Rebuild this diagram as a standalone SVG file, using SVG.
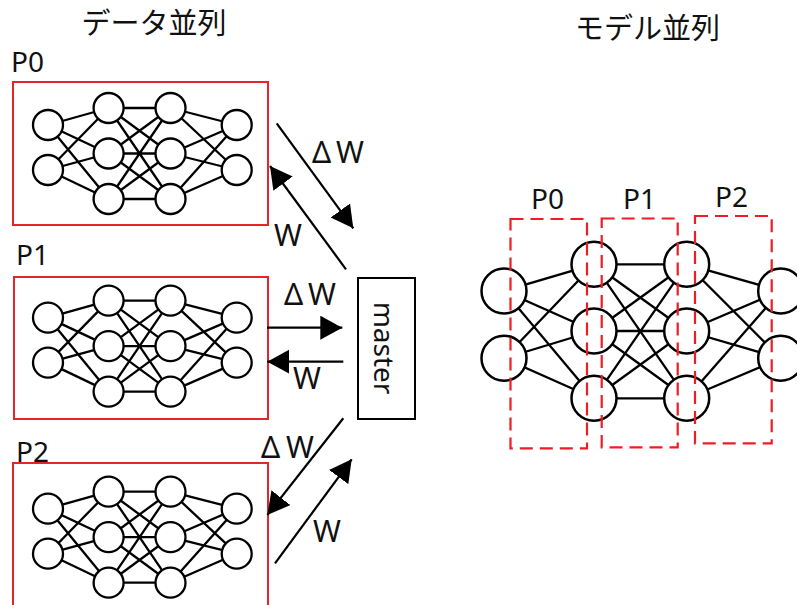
<svg xmlns="http://www.w3.org/2000/svg" xmlns:xlink="http://www.w3.org/1999/xlink" width="797" height="605" viewBox="0 0 797 605">
<style>
  .lbl { font-family: "Noto Sans", "Liberation Sans", sans-serif; font-size: 28px; fill: #111; }
  .wl { font-size: 30px; }
  .ttl { font-family: "Noto Sans CJK JP", "Noto Sans", sans-serif; font-size: 29px; fill: #111; }
  .edge { fill: none; stroke: #000; stroke-width: 2.3; }
  .nd { fill: #fff; stroke: #000; stroke-width: 2.3; }
  .ndb { fill: #fff; stroke: #000; stroke-width: 2.5; }
  .box { fill: none; stroke: #e4252a; stroke-width: 2; }
  .dbox { fill: none; stroke: #ee1c25; stroke-width: 2.2; stroke-dasharray: 13 7; }
  .arr { fill: none; stroke: #000; stroke-width: 2.2; marker-end: url(#ah); }
</style>
<defs>
  <marker id="ah" markerUnits="userSpaceOnUse" markerWidth="24" markerHeight="25" refX="22" refY="12" orient="auto">
    <path d="M0,0 L22,12 L0,24 Z" fill="#000"/>
  </marker>
  <g id="net">
    <path class="edge" d="M48,43 L108.6,26 M48,43 L108.6,71.5 M48,43 L108.6,117 M48,88 L108.6,26 M48,88 L108.6,71.5 M48,88 L108.6,117
      M108.6,26 L170.5,26 M108.6,26 L170.5,71.5 M108.6,26 L170.5,117
      M108.6,71.5 L170.5,26 M108.6,71.5 L170.5,71.5 M108.6,71.5 L170.5,117
      M108.6,117 L170.5,26 M108.6,117 L170.5,71.5 M108.6,117 L170.5,117
      M170.5,26 L236.7,43 M170.5,26 L236.7,88 M170.5,71.5 L236.7,43 M170.5,71.5 L236.7,88 M170.5,117 L236.7,43 M170.5,117 L236.7,88"/>
    <circle class="nd" cx="48" cy="43" r="15"/>
    <circle class="nd" cx="48" cy="88" r="15"/>
    <circle class="nd" cx="108.6" cy="26" r="15"/>
    <circle class="nd" cx="108.6" cy="71.5" r="15"/>
    <circle class="nd" cx="108.6" cy="117" r="15"/>
    <circle class="nd" cx="170.5" cy="26" r="15"/>
    <circle class="nd" cx="170.5" cy="71.5" r="15"/>
    <circle class="nd" cx="170.5" cy="117" r="15"/>
    <circle class="nd" cx="236.7" cy="43" r="15"/>
    <circle class="nd" cx="236.7" cy="88" r="15"/>
  </g>
</defs>
<rect width="797" height="605" fill="#fff"/>

<text class="ttl" x="154" y="34" text-anchor="middle">データ並列</text>
<text class="ttl" x="647.5" y="39" text-anchor="middle">モデル並列</text>

<g id="p0">
  <text class="lbl" x="11" y="72">P0</text>
  <rect class="box" x="13" y="82" width="255" height="143"/>
  <use xlink:href="#net" href="#net" transform="translate(0,82)"/>
</g>
<g id="p1">
  <text class="lbl" x="16" y="265">P1</text>
  <rect class="box" x="14" y="277" width="254" height="142"/>
  <use xlink:href="#net" href="#net" transform="translate(0,274.6)"/>
</g>
<g id="p2">
  <text class="lbl" x="16" y="462">P2</text>
  <rect class="box" x="13" y="463" width="255" height="150"/>
  <use xlink:href="#net" href="#net" transform="translate(0,465.7)"/>
</g>
<g id="master">
  <rect x="358" y="278" width="57" height="141" fill="#fff" stroke="#000" stroke-width="2"/>
  <text class="lbl" text-anchor="middle" font-size="29" transform="translate(374,348) rotate(90)">master</text>
</g>

<g id="connectors">
  <line class="arr" x1="276.7" y1="123.3" x2="353.3" y2="228.3"/>
  <line class="arr" x1="346" y1="269.3" x2="270" y2="166"/>
  <line class="arr" x1="267" y1="327.7" x2="342.3" y2="327.7"/>
  <line class="arr" x1="343.3" y1="361.7" x2="267.3" y2="361.7"/>
  <line class="arr" x1="343.3" y1="418.3" x2="267.3" y2="515"/>
  <line class="arr" x1="275" y1="563.3" x2="351.7" y2="459.3"/>
  <text class="lbl wl" y="162.7"><tspan x="312">Δ</tspan><tspan x="336">W</tspan></text>
  <text class="lbl wl" x="274" y="246">W</text>
  <text class="lbl wl" y="305"><tspan x="284">Δ</tspan><tspan x="308">W</tspan></text>
  <text class="lbl wl" x="293" y="389.3">W</text>
  <text class="lbl wl" y="458.3"><tspan x="261">Δ</tspan><tspan x="286">W</tspan></text>
  <text class="lbl wl" x="313" y="542">W</text>
</g>

<g id="model-net">
  <path class="edge" stroke-width="2.5" d="M504,291 L594,264.3 M504,291 L594,331 M504,291 L594,398.3 M504,358.3 L594,264.3 M504,358.3 L594,331 M504,358.3 L594,398.3
    M594,264.3 L686.7,264.3 M594,264.3 L686.7,331 M594,264.3 L686.7,398.3
    M594,331 L686.7,264.3 M594,331 L686.7,331 M594,331 L686.7,398.3
    M594,398.3 L686.7,264.3 M594,398.3 L686.7,331 M594,398.3 L686.7,398.3
    M686.7,264.3 L780.7,291 M686.7,264.3 L780.7,358.3 M686.7,331 L780.7,291 M686.7,331 L780.7,358.3 M686.7,398.3 L780.7,291 M686.7,398.3 L780.7,358.3"/>
  <circle class="ndb" cx="504" cy="291" r="22.5"/>
  <circle class="ndb" cx="504" cy="358.3" r="22.5"/>
  <circle class="ndb" cx="594" cy="264.3" r="22.5"/>
  <circle class="ndb" cx="594" cy="331" r="22.5"/>
  <circle class="ndb" cx="594" cy="398.3" r="22.5"/>
  <circle class="ndb" cx="686.7" cy="264.3" r="22.5"/>
  <circle class="ndb" cx="686.7" cy="331" r="22.5"/>
  <circle class="ndb" cx="686.7" cy="398.3" r="22.5"/>
  <circle class="ndb" cx="780.7" cy="291" r="22.5"/>
  <circle class="ndb" cx="780.7" cy="358.3" r="22.5"/>
</g>
<g id="mp-p0">
  <rect class="dbox" x="510.5" y="219" width="76.5" height="229.3"/>
  <text class="lbl" x="531" y="209">P0</text>
</g>
<g id="mp-p1">
  <rect class="dbox" x="601.7" y="218.5" width="76" height="228.8"/>
  <text class="lbl" x="623" y="209">P1</text>
</g>
<g id="mp-p2">
  <rect class="dbox" x="695" y="216" width="76.7" height="227.3"/>
  <text class="lbl" x="715" y="207">P2</text>
</g>
</svg>
